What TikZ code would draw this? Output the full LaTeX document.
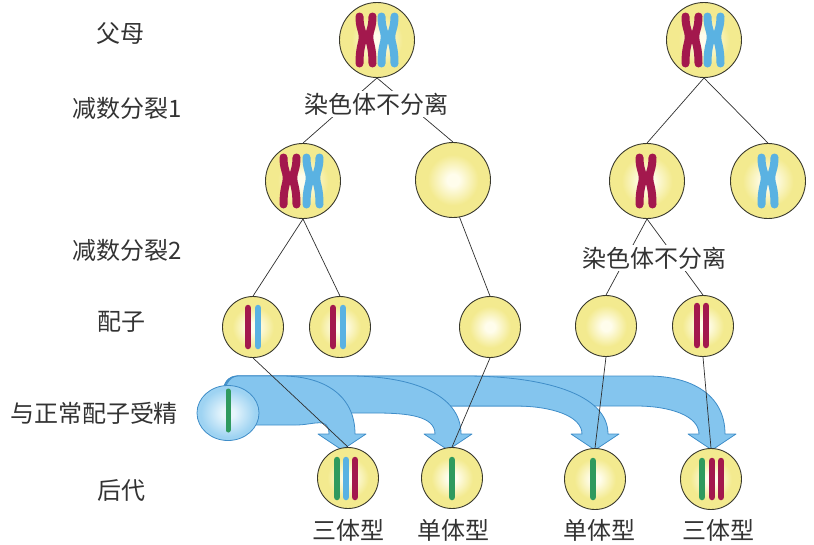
\documentclass[tikz,border=0pt]{standalone}
\usepackage{fontspec}
\setmainfont{Noto Sans CJK SC}
\usetikzlibrary{shapes.geometric}
\definecolor{cellyel}{HTML}{F3EA8F}
\definecolor{cellcore}{HTML}{FFFDEC}
\definecolor{cellline}{HTML}{3A3A2E}
\definecolor{chromred}{HTML}{A3184D}
\definecolor{chromblue}{HTML}{5AB2E2}
\definecolor{chromgreen}{HTML}{2F9A5E}
\definecolor{arrowfill}{HTML}{84C5EE}
\definecolor{arrowline}{HTML}{3F8DC8}
\definecolor{spermblue}{HTML}{9ED3F2}
\definecolor{spermcore}{HTML}{E6F5FC}
\definecolor{textgray}{HTML}{333333}
\definecolor{linegray}{HTML}{2E2E2E}
\pgfdeclareradialshading{cellglow}{\pgfpoint{0bp}{0bp}}{color(0bp)=(cellcore); color(4bp)=(cellcore); color(17bp)=(cellyel); color(50bp)=(cellyel)}
\pgfdeclareradialshading{spermglow}{\pgfpoint{0bp}{0bp}}{color(0bp)=(spermcore); color(5bp)=(spermcore); color(22bp)=(spermblue); color(50bp)=(spermblue)}
\begin{document}
\begin{tikzpicture}[line cap=round, line join=round, font=\fontsize{24pt}{28pt}\selectfont, x=1pt, y=-1pt]
	\tikzset{cell/.style={circle, draw=cellline, line width=0.9pt, minimum size=75pt, inner sep=0pt, shade, shading=cellglow},
		gamete/.style={cell, minimum size=61pt},
		caption/.style={text=textgray, inner sep=1pt},
		split/.style={caption, fill=white, inner sep=2pt},
		link/.style={draw=linegray, line width=0.7pt},
		bar/.style={line width=6.5pt},
		fertarrow/.style={fill=arrowfill, draw=arrowline, line width=0.8pt},
		xchrom/.pic={
			\draw[line width=8pt, #1] (-6.5,-23.5) .. controls (-6.5,-12) and (-3.2,-9) .. (-3.2,-3) .. controls (-3.2,3) and (-6.5,6) .. (-6.5,23.5);
			\draw[line width=8pt, #1] (6.5,-23.5) .. controls (6.5,-12) and (3.2,-9) .. (3.2,-3) .. controls (3.2,3) and (6.5,6) .. (6.5,23.5);
		}}
	\useasboundingbox (0,0) rectangle (814,544);
	% row labels
	\node[caption] (lparent) at (120,33) {父母};
	\node[caption] (lmeioA) at (127,108) {减数分裂1};
	\node[caption] (lmeioB) at (127,250) {减数分裂2};
	\node[caption] (lgamete) at (121,322) {配子};
	\node[caption] (lfert) at (94,413) {与正常配子受精};
	\node[caption] (loffspring) at (121,490) {后代};
	% blue arrows, far one first
	\foreach \tx/\ox/\ix/\iy in {712/648/636/406, 595/465/515/406, 448/350/375/413, 342/282/296/425}{
		\pgfmathsetmacro\ca{\ox+0.55*(\tx+13-\ox)}
		\pgfmathsetmacro\cb{\ix+0.55*(\tx-13-\ix)}
		\filldraw[fertarrow] (236,\iy) .. controls (220,\iy) and (218,376) .. (238,376) -- (\ox,376)
			.. controls (\ca,376) and (\tx+13,394) .. (\tx+13,434) -- (\tx+24,434) -- (\tx,450) -- (\tx-24,434) -- (\tx-13,434)
			.. controls (\tx-13,416) and (\cb,\iy) .. (\ix,\iy) -- cycle;
	}
	\node[ellipse, draw=arrowline, line width=0.8pt, minimum width=62pt, minimum height=55pt, shade, shading=spermglow] (sperm) at (228,413) {};
	\draw[bar, chromgreen, line width=5pt] (228,391) -- (228,430);
	% cells
	\node[cell] (parentA) at (377,40) {};
	\node[cell] (parentB) at (704,40) {};
	\node[cell] (cellXX) at (303,181) {};
	\node[cell] (cellO) at (453,180) {};
	\node[cell] (cellR) at (647,181) {};
	\node[cell] (cellB) at (768,181) {};
	\node[gamete] (gamA) at (253,327) {};
	\node[gamete] (gamB) at (340,327) {};
	\node[gamete] (gamC) at (490,327) {};
	\node[gamete] (gamD) at (606,326) {};
	\node[gamete] (gamE) at (703,326) {};
	\node[gamete] (offA) at (348,478) {};
	\node[gamete] (offB) at (452,478) {};
	\node[gamete] (offC) at (595,479) {};
	\node[gamete] (offD) at (711,479) {};
	% connectors
	\draw[link] (parentA.south) -- (cellXX.north) (parentA.south) -- (cellO.north);
	\draw[link] (parentB.south) -- (cellR.north) (parentB.south) -- (cellB.north);
	\draw[link] (cellXX.south) -- (gamA.north) (cellXX.south) -- (gamB.north);
	\draw[link] (cellO.-80) -- (gamC.north);
	\draw[link] (cellR.south) -- (gamD.north) (cellR.south) -- (gamE.north);
	\draw[link] (gamA.south) -- (offA.north) (gamC.south) -- (offB.north);
	\draw[link] (gamD.south) -- (offC.north) (gamE.south) -- (offD.north);
	\node[split] (splitA) at (376,104) {染色体不分离};
	\node[split] (splitB) at (654,258) {染色体不分离};
	% chromosomes
	\pic at (366,40) {xchrom=chromred};
	\pic at (388,40) {xchrom=chromblue};
	\pic at (692,40) {xchrom=chromred};
	\pic at (714,40) {xchrom=chromblue};
	\pic at (290,181) {xchrom=chromred};
	\pic at (313,181) {xchrom=chromblue};
	\pic at (646,181) {xchrom=chromred};
	\pic at (768,181) {xchrom=chromblue};
	\draw[bar, chromred] (248,308) -- (248,346);
	\draw[bar, chromblue] (258,308) -- (258,346);
	\draw[bar, chromred] (333,308) -- (333,346);
	\draw[bar, chromblue] (343,308) -- (343,346);
	\draw[bar, chromred] (697,306) -- (697,345);
	\draw[bar, chromred] (706,306) -- (706,345);
	\draw[bar, chromgreen] (337,460) -- (337,497);
	\draw[bar, chromblue] (346,460) -- (346,497);
	\draw[bar, chromred] (355,460) -- (355,497);
	\draw[bar, chromgreen] (452,460) -- (452,497);
	\draw[bar, chromgreen] (593,461) -- (593,497);
	\draw[bar, chromgreen] (702,461) -- (702,497);
	\draw[bar, chromred] (712,461) -- (712,497);
	\draw[bar, chromred] (721,461) -- (721,497);
	% offspring types
	\node[caption] (typeA) at (348,530) {三体型};
	\node[caption] (typeB) at (453,530) {单体型};
	\node[caption] (typeC) at (599,530) {单体型};
	\node[caption] (typeD) at (718,530) {三体型};
\end{tikzpicture}
\end{document}
